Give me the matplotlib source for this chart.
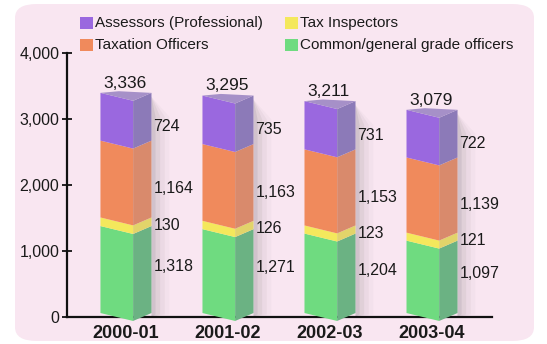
import matplotlib.pyplot as plt
from matplotlib.patches import Polygon, Rectangle, FancyBboxPatch

# Dane
years = ['2000-01', '2001-02', '2002-03', '2003-04']
common_officers = [1318, 1271, 1204, 1097]
tax_inspectors = [130, 126, 123, 121]
taxation_officers = [1164, 1163, 1153, 1139]
assessors = [724, 735, 731, 722]
totals = [3336, 3295, 3211, 3079]

series_names = ['Common/general grade officers', 'Tax Inspectors',
                'Taxation Officers', 'Assessors (Professional)']
series_values = [common_officers, tax_inspectors, taxation_officers, assessors]
front_colors = ['#6fdb80', '#f4e85c', '#f08a5c', '#9a68df']
side_colors = ['#6bb283', '#e2d46a', '#d98a6c', '#8c7ab8']
label_shift = [110, 0, -90, -90]

FONT = 'Liberation Sans'
W = 547 / 100
H = 344 / 100

fig = plt.figure(figsize=(W, H), dpi=100)
fig.patch.set_facecolor('white')

# rozowe tlo
bg = FancyBboxPatch((15 / 547, 3 / 344), (534 - 15) / 547, (340 - 3) / 344,
                    boxstyle='round,pad=0,rounding_size=0.04',
                    transform=fig.transFigure, facecolor='#f9e6f1',
                    edgecolor='none', zorder=-10)
fig.patches.append(bg)

ax = fig.add_axes([67 / 547, 27 / 344, (492 - 67) / 547, (317 - 53) / 344])
ax.set_facecolor('none')
ax.set_xlim(-0.578, 3.588)
ax.set_ylim(0, 4000)

d = 120          # glebokosc "V" w jednostkach danych
x_left, x_edge, x_right = -0.25, 0.07, 0.25

for i in range(len(years)):
    xl, xe, xr = i + x_left, i + x_edge, i + x_right
    # cien
    for k, a in enumerate([0.10, 0.07, 0.05, 0.03]):
        off = 0.04 + 0.045 * k
        sh = Polygon([(xr, 0), (xr + off, 40), (xr + off, totals[i] - 300),
                      (xr, totals[i])], closed=True, facecolor='#555555',
                     edgecolor='none', alpha=a, zorder=1, clip_on=False)
        ax.add_patch(sh)
    lo = 0
    for s, vals in enumerate(series_values):
        hi = lo + vals[i]
        left_face = Polygon([(xl, lo + d / 2), (xe, lo - d / 2), (xe, hi - d / 2), (xl, hi + d / 2)],
                            closed=True, facecolor=front_colors[s], edgecolor='none',
                            zorder=3, clip_on=False)
        right_face = Polygon([(xe, lo - d / 2), (xr, lo + d / 2), (xr, hi + d / 2), (xe, hi - d / 2)],
                             closed=True, facecolor=side_colors[s], edgecolor='none',
                             zorder=3, clip_on=False)
        ax.add_patch(left_face)
        ax.add_patch(right_face)
        ax.text(i + 0.27, (lo + hi) / 2 + label_shift[s], f'{vals[i]:,}',
                ha='left', va='center', fontsize=11.5, family=FONT,
                color='#1a1a1a', zorder=5)
        lo = hi
    # gorna sciana
    top = Polygon([(xl, lo + d / 2), (xe, lo - d / 2), (xr, lo + d / 2),
                   (xl + xr - xe, lo + d / 2 + 25)],
                  closed=True, facecolor='#a690c8', edgecolor='none', zorder=3, clip_on=False)
    ax.add_patch(top)
    ax.text(i - 0.01, totals[i] + 95, f'{totals[i]:,}', ha='center', va='bottom',
            fontsize=12.5, family=FONT, color='#1a1a1a', zorder=5)

ax.set_xticks(range(len(years)))
ax.set_xticklabels(years, fontsize=13, fontweight='bold', family=FONT, color='#1a1a1a')
ax.set_yticks([0, 1000, 2000, 3000, 4000])
ax.set_yticklabels([f'{v:,}' for v in [0, 1000, 2000, 3000, 4000]],
                   fontsize=11.5, family=FONT, color='#1a1a1a')
ax.tick_params(axis='x', length=0, pad=6)
ax.tick_params(axis='y', direction='inout', length=7, width=1.2, pad=2)
for side in ['top', 'right']:
    ax.spines[side].set_visible(False)
for side in ['left', 'bottom']:
    ax.spines[side].set_linewidth(1.6)
    ax.spines[side].set_color('#111111')
    ax.spines[side].set_zorder(2)

# legenda
legend_pos = {'Assessors (Professional)': (80, 23), 'Tax Inspectors': (285, 23),
              'Taxation Officers': (80, 45), 'Common/general grade officers': (285, 45)}
for s, name in enumerate(series_names):
    px, py = legend_pos[name]
    fig.patches.append(Rectangle((px / 547, (344 - py - 6) / 344), 13 / 547, 12 / 344,
                                 transform=fig.transFigure, facecolor=front_colors[s],
                                 edgecolor='none', zorder=2))
    fig.text((px + 15) / 547, (344 - py) / 344, name, ha='left', va='center',
             fontsize=11, family=FONT, color='#1a1a1a')

fig.savefig('out.png', dpi=100)
